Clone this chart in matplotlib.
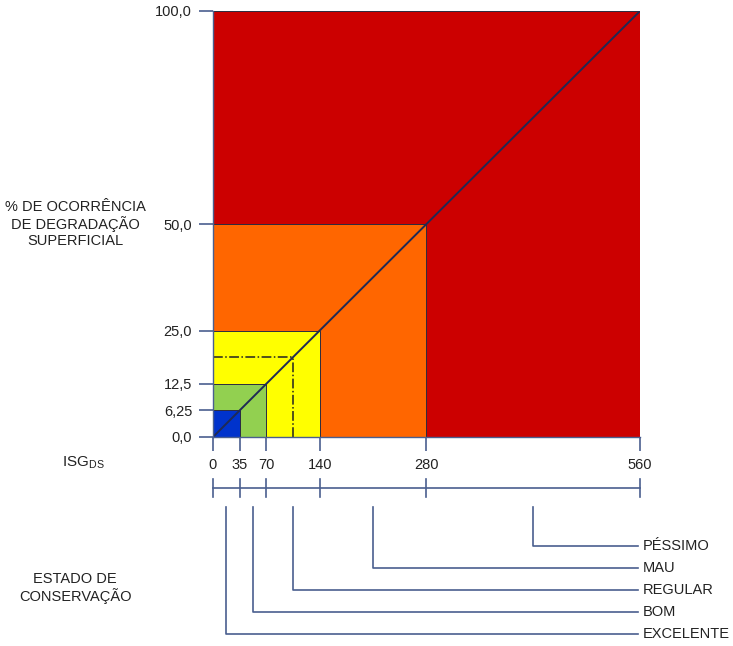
import matplotlib.pyplot as plt
from matplotlib.patches import Rectangle

plt.rcParams['font.family'] = ['Liberation Sans', 'DejaVu Sans']

# class limits: ISG_DS and % of occurrence
isg_limits = [35, 70, 140, 280, 560]
pct_limits = [6.25, 12.5, 25.0, 50.0, 100.0]
colors = ['#0033CC', '#92D050', '#FFFF00', '#FF6600', '#CC0000']
classes = ['EXCELENTE', 'BOM', 'REGULAR', 'MAU', 'PÉSSIMO']

x_ticks = [0, 35, 70, 140, 280, 560]
y_ticks = [0.0, 6.25, 12.5, 25.0, 50.0, 100.0]
y_labels = ['0,0', '6,25', '12,5', '25,0', '50,0', '100,0']

# example reading on the diagonal
ex_x, ex_y = 105, 18.75

axis_col = '#4A5F8F'
W, H = 733, 646
fig = plt.figure(figsize=(W / 100, H / 100), dpi=100)

ax = fig.add_axes([213 / W, 209 / H, 427 / W, 426 / H])
ax.set_xlim(0, 560)
ax.set_ylim(0, 100)

# nested rectangles, biggest first
for xl, yl, c in reversed(list(zip(isg_limits, pct_limits, colors))):
    ax.add_patch(Rectangle((0, 0), xl, yl, facecolor=c, edgecolor='#2B2B40', lw=0.7))

ax.plot([0, 560], [0, 100], color='#1F2A55', lw=1.4)
ax.plot([0, ex_x], [ex_y, ex_y], color='#222222', lw=1.1, ls='-.')
ax.plot([ex_x, ex_x], [0, ex_y], color='#222222', lw=1.1, ls='-.')

for s in ['top', 'right']:
    ax.spines[s].set_visible(False)
for s in ['left', 'bottom']:
    ax.spines[s].set_color(axis_col)
    ax.spines[s].set_linewidth(1.0)
ax.set_xticks(x_ticks)
ax.set_xticklabels([str(v) for v in x_ticks])
ax.set_yticks(y_ticks)
ax.set_yticklabels(y_labels)
ax.tick_params(colors=axis_col, length=10, width=1.2, labelsize=10.5,
               labelcolor='#222222', pad=5)

fig.text(75 / W, 1 - 224 / H, '% DE OCORRÊNCIA\nDE DEGRADAÇÃO\nSUPERFICIAL',
         ha='center', va='center', fontsize=10.5, color='#222222', linespacing=1.15)
fig.text(62 / W, 1 - 463 / H, r'ISG$_{\mathregular{DS}}$', ha='left', va='center',
         fontsize=11, color='#222222')
fig.text(75 / W, 1 - 588 / H, 'ESTADO DE\nCONSERVAÇÃO', ha='center', va='center',
         fontsize=10.5, color='#222222', linespacing=1.15)

# lower scale: same x scale, y in pixel rows
ax2 = fig.add_axes([213 / W, 0, 427 / W, 209 / H])
ax2.set_xlim(0, 560)
ax2.set_ylim(646, 437)
ax2.axis('off')

bar_y = 488
ax2.plot([0, 560], [bar_y, bar_y], color=axis_col, lw=1.2, clip_on=False)
for xt in x_ticks:
    ax2.plot([xt, xt], [bar_y - 9, bar_y + 9], color=axis_col, lw=1.2, clip_on=False)

lows = [0] + isg_limits[:-1]
end_x = (638 - 213) / 427 * 560
for i, (lo, hi, name) in enumerate(zip(lows, isg_limits, classes)):
    mid = (lo + hi) / 2
    yy = 634 - 22 * i
    ax2.plot([mid, mid, end_x], [507, yy, yy], color=axis_col, lw=1.2, clip_on=False)
    ax2.text(end_x + 6, yy, name, ha='left', va='center', fontsize=10.5,
             color='#222222', clip_on=False)

fig.savefig('out.png', dpi=100)
